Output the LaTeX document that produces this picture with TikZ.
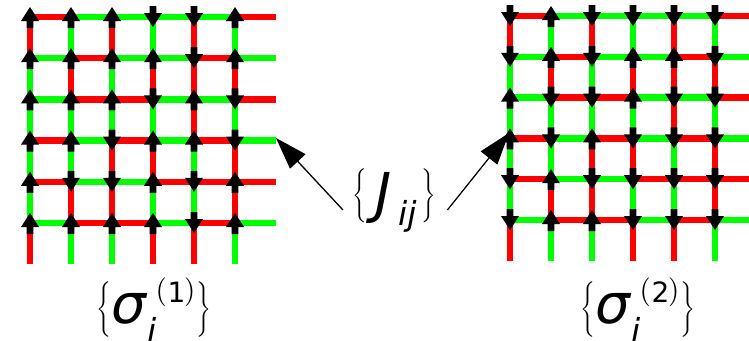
\documentclass[tikz,border=0pt]{standalone}
\usepackage{fontspec}
\setmainfont{DejaVu Sans}
\usepackage{amsmath}
\usetikzlibrary{arrows.meta}
\definecolor{edgeR}{RGB}{255,0,0}
\definecolor{edgeG}{RGB}{0,255,0}
\newcommand\putat[3]{\rlap{\hspace*{#1}\smash{\raisebox{#2}{#3}}}}
\newcommand\fsz[1]{\fontsize{#1}{#1}\selectfont}
\newcommand\Lbr[1]{\scalebox{#1}{$\Bigg\{$}}
\newcommand\Rbr[1]{\scalebox{#1}{$\Bigg\}$}}
\newcommand\Lpar{\scalebox{2.9}{$($}}
\newcommand\Rpar{\scalebox{2.9}{$)$}}
\newcommand\siglabel[1]{%
  \putat{6pt}{8.9pt}{\Lbr{1.85}}%
  \putat{20.5pt}{0pt}{\fsz{55}\itshape σ}%
  \putat{56.5pt}{-19pt}{\fsz{33}\itshape i}%
  \putat{65pt}{24pt}{\Lpar}%
  \putat{77pt}{20.5pt}{\fsz{28}#1}%
  \putat{93.5pt}{24pt}{\Rpar}%
  \putat{106pt}{8.9pt}{\Rbr{1.85}}}
\tikzset{
  edge/.style={line width=6.5pt,line cap=butt},
  spinU/.pic={\fill[black] (0,-10) -- (9,4) -- (3.3,4) -- (3.3,11) -- (-3.3,11) -- (-3.3,4) -- (-9,4) -- cycle;},
  spinD/.pic={\fill[black] (0,10) -- (9,-4) -- (3.3,-4) -- (3.3,-11) -- (-3.3,-11) -- (-3.3,-4) -- (-9,-4) -- cycle;},
  conn/.style={line width=1.3pt,-{Triangle[length=32pt,width=21pt]}},
  lbl/.style={anchor=base west,inner sep=0pt}
}
\newcommand\hedges[2]{%
  \foreach \row [count=\r from 0] in {{R,G,G,G,G,R},{G,R,G,G,R,G},{G,R,R,G,G,R},{R,G,R,G,R,G},{R,G,G,R,R,R},{G,R,R,G,R,G}}{
    \foreach \cl [count=\c from 0] in \row {
      \draw[edge,edge\cl] ({41*\c},{#1*\r}) -- ++(41,0);
    }
  }
  \foreach \col [count=\c from 0] in {{R,G,G,G,G,R},{G,R,G,G,R,G},{R,G,G,R,R,G},{G,R,G,R,G,R},{R,R,R,G,G,R},{G,R,G,R,R,G}}{
    \foreach \cl [count=\r from 0] in \col {
      \draw[edge,edge\cl] ({41*\c},{#1*\r}) -- ++(0,#2);
    }
  }
}
\begin{document}
\begin{tikzpicture}[x=1pt,y=-1pt]
\useasboundingbox (0,0) rectangle (749,340);
\begin{scope}
\clip (0,0) rectangle (749,340);
% left lattice
\begin{scope}[shift={(30,17)}]
  \hedges{41.2}{41.2}
  \foreach \row [count=\r from 0] in {{U,U,U,D,D,U},{U,U,U,U,D,U},{U,U,U,D,U,D},{U,U,D,U,U,D},{U,D,D,U,D,U},{U,U,U,U,D,U}}{
    \foreach \s [count=\c from 0] in \row {\pic at ({41*\c},{41.2*\r}) {spin\s};}
  }
\end{scope}
% right lattice
\begin{scope}[shift={(510,16)}]
  \hedges{40.8}{40.8}
  \foreach \row [count=\r from 0] in {{D,U,D,D,D,D},{D,U,D,U,U,D},{U,D,D,U,D,D},{U,D,U,D,D,D},{D,U,D,D,D,D},{D,U,U,D,D,D}}{
    \foreach \s [count=\c from 0] in \row {\pic at ({41*\c},{40.8*\r}) {spin\s};}
  }
\end{scope}
\end{scope}
% labels
\node[lbl] (sig1) at (90,323) {\siglabel{1}};
\node[lbl] (sig2) at (574,323) {\siglabel{2}};
\node[lbl] (J) at (343,212) {\putat{9pt}{11.5pt}{\Lbr{1.8}}\putat{32pt}{0pt}{\fsz{55}\itshape J}\putat{55pt}{-13pt}{\fsz{33}\itshape ij}\putat{78.5pt}{11.5pt}{\Rbr{1.8}}\rule[-24pt]{0pt}{52pt}\hspace*{104pt}};
\coordinate (tipL) at (276,138);
\coordinate (tipR) at (509,133);
\draw[conn] (J.west) -- (tipL);
\draw[conn] (J.east) -- (tipR);
\end{tikzpicture}
\end{document}
